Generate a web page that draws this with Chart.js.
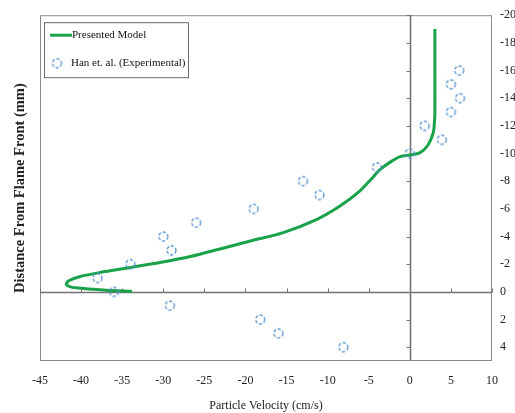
<!DOCTYPE html>
<html><head><meta charset="utf-8">
<script src="https://cdn.jsdelivr.net/npm/chart.js@4"></script>
<style>html,body{margin:0;padding:0;background:#fff}</style>
</head><body>
<canvas id="c" width="515" height="413" style="display:block;width:515px;height:413px"></canvas>
<script>
// ---- data ----
const seriesNames = ['Presented Model', 'Han et. al. (Experimental)'];
const xTickValues = [-45, -40, -35, -30, -25, -20, -15, -10, -5, 0, 5, 10];
const yTickValues = [-20, -18, -16, -14, -12, -10, -8, -6, -4, -2, 0, 2, 4];

// Presented Model curve (particle velocity cm/s, distance mm)
const modelX = [3.05, 3.05, 3.05, 3.0, 2.85, 2.2, 1.2, 0, -1.2, -2.2, -3.6, -4.65, -6.1, -8.5, -11.3, -15.4, -19.4, -23.1, -26.7, -30.4, -34.0, -37.7, -40.1, -41.5, -41.8, -41.3, -39.7, -36.9, -33.8];
const modelY = [-19.0, -16.0, -13.0, -12.3, -11.5, -10.6, -10.05, -9.9, -9.78, -9.45, -8.85, -8.18, -7.28, -6.2, -5.24, -4.28, -3.68, -3.1, -2.55, -2.12, -1.76, -1.4, -1.11, -0.8, -0.55, -0.36, -0.24, -0.12, -0.03];

// Han et. al. experimental points
const expX = [0, 1.8, 3.9, 5.0, 6.1, 5.0, 6.0, -4.0, -13.0, -11.0, -19.0, -26.0, -30.0, -29.0, -34.0, -38.0, -36.0, -29.2, -18.2, -16.0, -8.1];
const expY = [-10, -12, -11, -13, -14, -15, -16, -9, -8, -7, -6, -5, -4, -3, -2, -1, 0, 1, 2, 3, 4];

// ---- styles ----
const GREEN = '#19a24a';
const BLUE = '#5b94d0';
const SERIF = '"Liberation Serif", "Times New Roman", serif';

function dashedCircle() {
  const c = document.createElement('canvas');
  c.width = 13; c.height = 13;
  const g = c.getContext('2d');
  g.strokeStyle = BLUE; g.lineWidth = 1.3;
  g.setLineDash([3.2, 1.8]);
  g.beginPath(); g.arc(6.5, 6.5, 4.5, 0, Math.PI * 2); g.stroke();
  return c;
}
const marker = dashedCircle();

const crossAxes = {
  id: 'crossAxes',
  beforeDatasetsDraw(chart) {
    const { ctx, chartArea: a, scales: { x, y } } = chart;
    ctx.save();
    ctx.strokeStyle = '#8a8a8a'; ctx.lineWidth = 1;
    ctx.strokeRect(a.left + 0.5, a.top + 0.5, a.width - 1, a.height - 1);
    const x0 = Math.round(x.getPixelForValue(0)) + 0.5;
    const y0 = Math.round(y.getPixelForValue(0)) + 0.5;
    ctx.strokeStyle = '#737373'; ctx.lineWidth = 1.6;
    ctx.beginPath();
    ctx.moveTo(a.left, y0); ctx.lineTo(a.right, y0);
    ctx.moveTo(x0, a.top); ctx.lineTo(x0, a.bottom);
    ctx.stroke();
    ctx.lineWidth = 1;
    ctx.beginPath();
    x.ticks.forEach(t => {
      const px = Math.round(x.getPixelForValue(t.value)) + 0.5;
      ctx.moveTo(px, y0); ctx.lineTo(px, y0 - 4);
    });
    y.ticks.forEach(t => {
      const py = Math.round(y.getPixelForValue(t.value)) + 0.5;
      ctx.moveTo(x0 - 4, py); ctx.lineTo(x0, py);
    });
    ctx.stroke();
    ctx.restore();
  }
};

const boxLegend = {
  id: 'boxLegend',
  afterDatasetsDraw(chart) {
    const { ctx, chartArea: a } = chart;
    const ds = chart.data.datasets;
    const bx = a.left + 4, by = a.top + 7, bw = 144, bh = 55;
    ctx.save();
    ctx.fillStyle = '#fff';
    ctx.fillRect(bx, by, bw, bh);
    ctx.strokeStyle = '#6a6a6a'; ctx.lineWidth = 1;
    ctx.strokeRect(bx + 0.5, by + 0.5, bw, bh);
    ctx.font = '11px ' + SERIF;
    ctx.fillStyle = '#111';
    ctx.textBaseline = 'middle';
    // row 1
    ctx.strokeStyle = ds[0].borderColor; ctx.lineWidth = 3;
    ctx.beginPath(); ctx.moveTo(bx + 6, by + 13); ctx.lineTo(bx + 28, by + 13); ctx.stroke();
    ctx.fillText(ds[0].label, bx + 28, by + 13);
    // row 2
    ctx.drawImage(marker, bx + 13 - 6.5, by + 41 - 6.5);
    ctx.fillText(ds[1].label, bx + 27, by + 41);
    ctx.restore();
  }
};

new Chart(document.getElementById('c'), {
  type: 'scatter',
  data: {
    datasets: [
      {
        label: seriesNames[0],
        data: modelX.map((v, i) => ({ x: v, y: modelY[i] })),
        showLine: true,
        borderColor: GREEN,
        backgroundColor: GREEN,
        borderWidth: 3,
        pointRadius: 0,
        tension: 0.3,
        order: 2
      },
      {
        label: seriesNames[1],
        data: expX.map((v, i) => ({ x: v, y: expY[i] })),
        pointStyle: marker,
        pointRadius: 5,
        borderColor: BLUE,
        backgroundColor: BLUE,
        order: 1
      }
    ]
  },
  options: {
    responsive: false,
    animation: false,
    devicePixelRatio: 1,
    layout: { padding: { top: 15, right: 0, bottom: 0, left: 0 } },
    plugins: { legend: { display: false }, tooltip: { enabled: false } },
    scales: {
      x: {
        type: 'linear', position: 'bottom', min: -45, max: 10,
        afterBuildTicks: s => { s.ticks = xTickValues.map(v => ({ value: v })); },
        ticks: { font: { family: SERIF, size: 12 }, color: '#222', padding: 13, maxRotation: 0 },
        grid: { display: false, drawTicks: false },
        border: { display: false },
        title: { display: true, text: 'Particle Velocity (cm/s)', color: '#222',
                 font: { family: SERIF, size: 12 }, padding: { top: 4, bottom: 0 } },
        afterFit: s => { s.height = 52; }
      },
      y: {
        type: 'linear', position: 'right', min: -20, max: 5, reverse: true,
        afterBuildTicks: s => { s.ticks = yTickValues.map(v => ({ value: v })); },
        ticks: { font: { family: SERIF, size: 12 }, color: '#222', padding: 8 },
        grid: { display: false, drawTicks: false },
        border: { display: false },
        afterFit: s => { s.width = 23; }
      },
      yTitle: {
        type: 'linear', axis: 'y', position: 'left', display: true,
        ticks: { display: false },
        grid: { display: false, drawTicks: false },
        border: { display: false },
        title: { display: true, text: 'Distance From Flame Front (mm)', color: '#222',
                 font: { family: SERIF, size: 14.5, weight: 'bold' }, padding: { top: 12, bottom: 0 } },
        afterFit: s => { s.width = 40; }
      }
    }
  },
  plugins: [crossAxes, boxLegend]
});
</script>
</body></html>
